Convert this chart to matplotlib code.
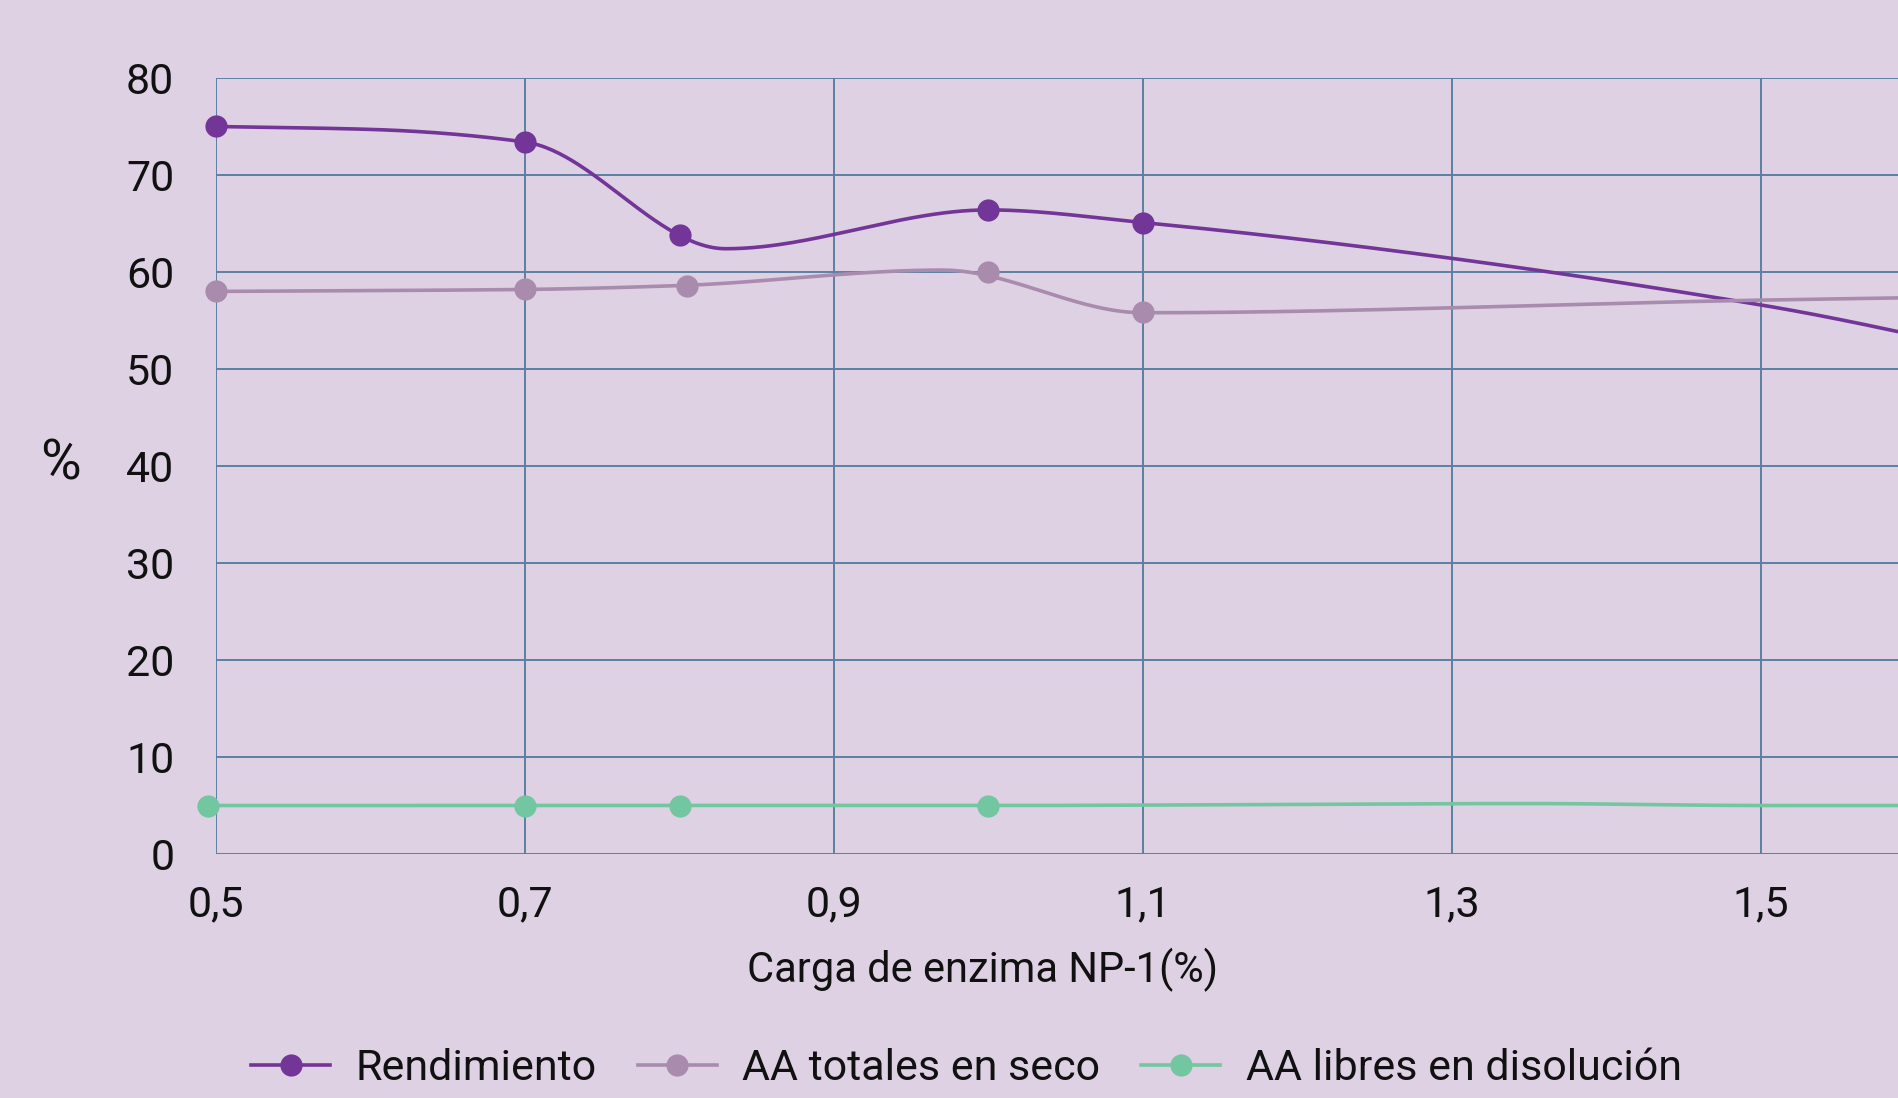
import numpy as np
import matplotlib
matplotlib.use("Agg")
import matplotlib.pyplot as plt
from matplotlib.lines import Line2D

plt.rcParams['font.family'] = ['Roboto', 'DejaVu Sans']

# ---- data ----
xticks = [0.5, 0.7, 0.9, 1.1, 1.3, 1.5]
xtick_labels = ["0,5", "0,7", "0,9", "1,1", "1,3", "1,5"]
yticks = [0, 10, 20, 30, 40, 50, 60, 70, 80]

# marker points
rend_x = [0.5, 0.7, 0.8, 1.0, 1.1]
rend_y = [75.0, 73.4, 63.8, 66.4, 65.1]
tot_x = [0.5, 0.7, 0.805, 1.0, 1.1]
tot_y = [58.0, 58.2, 58.6, 60.0, 55.9]
lib_x = [0.495, 0.7, 0.8, 1.0]
lib_y = [5.0, 5.0, 5.0, 5.0]

# line paths
rend_line_x = [0.5, 0.6, 0.7, 0.83, 1.0, 1.1, 1.5, 1.7]
rend_line_y = [75.0, 74.7, 73.4, 62.4, 66.4, 65.1, 56.6, 50.0]
tot_line_x = [0.5, 0.7, 0.8, 0.97, 1.1, 1.5, 1.7]
tot_line_y = [58.0, 58.2, 58.6, 60.2, 55.8, 57.1, 57.6]
lib_line_x = [0.495, 0.7, 0.8, 1.0, 1.35, 1.5, 1.7]
lib_line_y = [5.0, 5.0, 5.0, 5.0, 5.2, 5.0, 5.0]

labels = ["Rendimiento", "AA totales en seco", "AA libres en disolución"]
colors = ["#733597", "#A98BAE", "#72C6A0"]


def smooth(x, y, n=60):
    """Monotone (PCHIP-style) cubic Hermite curve through the points."""
    x = np.asarray(x, float)
    y = np.asarray(y, float)
    h = np.diff(x)
    d = np.diff(y) / h
    m = np.zeros_like(y)
    for i in range(1, len(x) - 1):
        if d[i - 1] * d[i] > 0:
            w1 = 2 * h[i] + h[i - 1]
            w2 = h[i] + 2 * h[i - 1]
            m[i] = (w1 + w2) / (w1 / d[i - 1] + w2 / d[i])
        else:
            m[i] = 0.0
    m[0] = d[0]
    m[-1] = d[-1]
    xs, ys = [], []
    for i in range(len(x) - 1):
        t = np.linspace(0, 1, n)
        h00 = 2 * t**3 - 3 * t**2 + 1
        h10 = t**3 - 2 * t**2 + t
        h01 = -2 * t**3 + 3 * t**2
        h11 = t**3 - t**2
        xs.append(x[i] + t * h[i])
        ys.append(h00 * y[i] + h10 * h[i] * m[i] + h01 * y[i + 1] + h11 * h[i] * m[i + 1])
    return np.concatenate(xs), np.concatenate(ys)


bg = "#DFD1E4"
grid_c = "#5B7FA3"
txt_c = "#111111"

fig = plt.figure(figsize=(18.99, 10.98), dpi=100, facecolor=bg)
ax = fig.add_axes([216 / 1899, 1 - 854 / 1098, 1 - 216 / 1899, (854 - 78) / 1098])
ax.set_facecolor(bg)

line_sets = [(rend_line_x, rend_line_y, rend_x, rend_y),
             (tot_line_x, tot_line_y, tot_x, tot_y),
             (lib_line_x, lib_line_y, lib_x, lib_y)]
for (lx, ly, mx, my), c in zip(line_sets, colors):
    sx, sy = smooth(lx, ly)
    ax.plot(sx, sy, color=c, lw=2.6, zorder=3, clip_on=True, solid_capstyle='round')
    ax.plot(mx, my, 'o', color=c, ms=16, mec='none', zorder=4, clip_on=False)

ax.set_xlim(0.5, 0.5 + (1899 - 216) / 1545 * 1.0)
ax.set_ylim(0, 80)
ax.set_xticks(xticks)
ax.set_xticklabels(xtick_labels)
ax.set_yticks(yticks)
ax.grid(True, color=grid_c, lw=1.4)
ax.set_axisbelow(True)
for s in ax.spines.values():
    s.set_visible(False)
ax.tick_params(length=0, labelsize=31, colors=txt_c)
ax.tick_params(axis='y', pad=30)
ax.tick_params(axis='x', pad=22)

fig.text(60 / 1899, 1 - 464 / 1098, "%", fontsize=40, ha='center', va='center', color=txt_c)
fig.text(983 / 1899, 1 - 970 / 1098, "Carga de enzima NP-1(%)", fontsize=30,
         ha='center', va='center', color=txt_c)

handles = [Line2D([], [], color=c, lw=2.6, marker='o', ms=16, mec='none') for c in colors]
fig.legend(handles, labels, loc='center', bbox_to_anchor=(0.509, 1 - 1069 / 1098),
           ncol=3, frameon=False, fontsize=31, handlelength=1.83, columnspacing=0.95,
           handletextpad=0.6, labelcolor=txt_c)

fig.savefig("out.png", dpi=100, facecolor=bg)
